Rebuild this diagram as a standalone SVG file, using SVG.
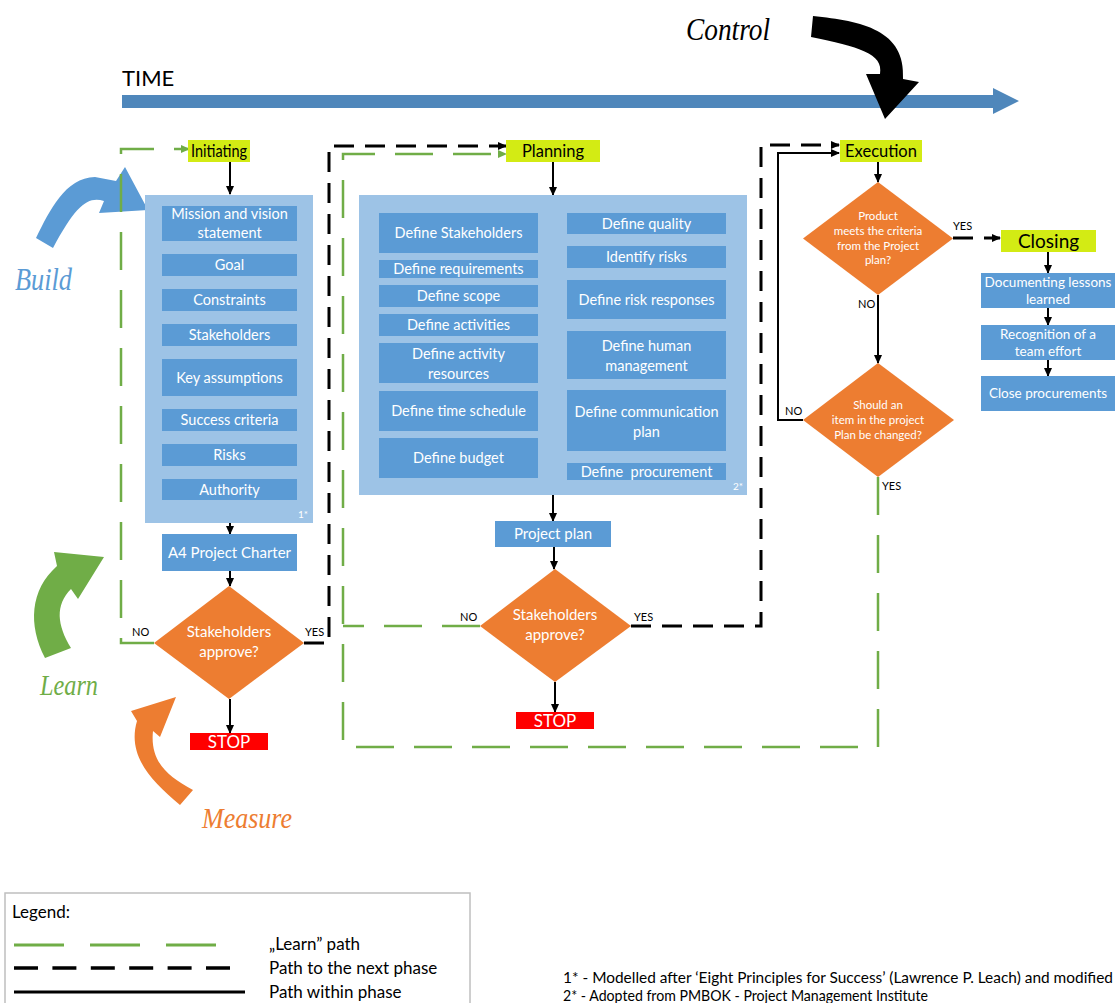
<svg xmlns="http://www.w3.org/2000/svg" width="1116" height="1003" viewBox="0 0 1116 1003">
<style>
text{font-family:Lato,"Open Sans","Liberation Sans",sans-serif}
.box{fill:#5b9bd5}
.cont{fill:#9dc3e6}
.dia{fill:#ed7d31}
.lbl{fill:#d3eb14}
.stop{fill:#ff0000}
.bt{fill:#ffffff;font-size:14.5px;text-anchor:middle}
.ct{fill:#ffffff;font-size:13.5px;text-anchor:middle}
.dt{fill:#ffffff;font-size:15px;text-anchor:middle}
.st{fill:#ffffff;font-size:11.5px;text-anchor:middle}
.lt{fill:#000000;font-size:16.5px;text-anchor:middle}
.yn{fill:#000000;font-size:11px}
.hand{font-family:"Liberation Serif","DejaVu Serif",serif;font-style:italic}
.solid{fill:none;stroke:#000;stroke-width:2}
.bdash{fill:none;stroke:#000;stroke-width:3;stroke-dasharray:20 11}
.gdash{fill:none;stroke:#70ad47;stroke-width:2.5;stroke-dasharray:38 20}
.leg{fill:#000;font-size:17px}
</style>
<defs>
<marker id="ab" markerUnits="userSpaceOnUse" markerWidth="10" markerHeight="10" refX="8" refY="5" orient="auto">
<path d="M0,1 L9,5 L0,9 Z" fill="#000"/>
</marker>
<marker id="ag" markerUnits="userSpaceOnUse" markerWidth="10" markerHeight="10" refX="8" refY="5" orient="auto">
<path d="M0,1 L9,5 L0,9 Z" fill="#70ad47"/>
</marker>
</defs>
<rect width="1116" height="1003" fill="#ffffff"/>

<!-- Time axis -->
<g id="time">
<text x="122" y="86" font-size="22" fill="#000">TIME</text>
<path d="M122,95 L993,95 L993,88 L1019,101 L993,114 L993,108 L122,108 Z" fill="#4f87bb"/>
</g>

<!-- PDCA style arrows -->
<g id="control">
<path d="M813,16 C862,21 906,30 903,79 L919,82 L885,119 L866,74 L880,74 C884,53 858,47 811,37 Z" fill="#000"/>
<text class="hand" x="686" y="40" font-size="32" fill="#000" textLength="84" lengthAdjust="spacingAndGlyphs">Control</text>
</g>
<g id="build">
<path d="M36,238 C50,210 65,178 95,177 L116,181 L125,167 L148,210 L99,213 L104,201 C88,196 76,205 53,248 Z" fill="#5b9bd5"/>
<text class="hand" x="15" y="290" font-size="32" fill="#5b9bd5" textLength="57" lengthAdjust="spacingAndGlyphs">Build</text>
</g>
<g id="learn">
<path d="M45,658 C28,625 30,590 57,566 L54,552 L104,557 L78,599 L71,589 C55,605 57,625 71,648 Z" fill="#70ad47"/>
<text class="hand" x="40" y="695" font-size="30" fill="#70ad47" textLength="58" lengthAdjust="spacingAndGlyphs">Learn</text>
</g>
<g id="measure">
<path d="M180,805 C150,780 127,755 137,721 L131,711 L176,697 L160,737 L153,731 C150,760 165,775 193,790 Z" fill="#ed7d31"/>
<text class="hand" x="202" y="828" font-size="30" fill="#ed7d31" textLength="90" lengthAdjust="spacingAndGlyphs">Measure</text>
</g>

<!-- Connectors -->
<g id="connectors">
<path class="gdash" d="M154,643 L121,643 L121,149 L189,149" marker-end="url(#ag)"/>
<path class="gdash" d="M480,626 L343,626"/>
<path class="gdash" d="M878,477 L878,747 L343,747 L343,154 L506,154" marker-end="url(#ag)"/>
<path class="bdash" d="M304,643 L329,643 L329,146 L506,146" marker-end="url(#ab)"/>
<path class="bdash" d="M631,626 L761,626 L761,145 L839,145" marker-end="url(#ab)"/>
<path class="bdash" d="M953,238 L1000,238" marker-end="url(#ab)"/>
<path class="solid" d="M230,162 L230,194" marker-end="url(#ab)"/>
<path class="solid" d="M230,523 L230,534" marker-end="url(#ab)"/>
<path class="solid" d="M230,571 L230,586" marker-end="url(#ab)"/>
<path class="solid" d="M230,699 L230,733" marker-end="url(#ab)"/>
<path class="solid" d="M553,162 L553,195" marker-end="url(#ab)"/>
<path class="solid" d="M553,495 L553,521" marker-end="url(#ab)"/>
<path class="solid" d="M554,547 L554,569" marker-end="url(#ab)"/>
<path class="solid" d="M555,682 L555,712" marker-end="url(#ab)"/>
<path class="solid" d="M878,162 L878,182" marker-end="url(#ab)"/>
<path class="solid" d="M878,295 L878,363" marker-end="url(#ab)"/>
<path class="solid" d="M803,420 L778,420 L778,153 L839,153" marker-end="url(#ab)"/>
<path class="solid" d="M1048,252 L1048,273" marker-end="url(#ab)"/>
<path class="solid" d="M1048,308 L1048,325" marker-end="url(#ab)"/>
<path class="solid" d="M1048,360 L1048,376" marker-end="url(#ab)"/>
<text class="yn" x="132" y="636">NO</text>
<text class="yn" x="305" y="636">YES</text>
<text class="yn" x="460" y="621">NO</text>
<text class="yn" x="634" y="621">YES</text>
<text class="yn" x="953" y="230">YES</text>
<text class="yn" x="858" y="308">NO</text>
<text class="yn" x="785" y="415">NO</text>
<text class="yn" x="882" y="490">YES</text>
</g>

<!-- Initiating phase -->
<g id="initiating">
<rect class="lbl" x="188" y="140" width="62" height="22"/>
<text class="lt" x="219" y="157" textLength="56" lengthAdjust="spacingAndGlyphs">Initiating</text>
</g>
<g id="initiating-content">
<rect class="cont" x="145" y="195" width="168" height="328"/>
<rect class="box" x="162" y="206" width="135" height="35"/>
<text class="bt" x="229.5" y="219">Mission and vision</text>
<text class="bt" x="229.5" y="238">statement</text>
<rect class="box" x="162" y="254" width="135" height="22"/>
<text class="bt" x="229.5" y="270">Goal</text>
<rect class="box" x="162" y="289" width="135" height="22"/>
<text class="bt" x="229.5" y="305">Constraints</text>
<rect class="box" x="162" y="324" width="135" height="22"/>
<text class="bt" x="229.5" y="340">Stakeholders</text>
<rect class="box" x="162" y="359" width="135" height="37"/>
<text class="bt" x="229.5" y="382.5">Key assumptions</text>
<rect class="box" x="162" y="409" width="135" height="22"/>
<text class="bt" x="229.5" y="425">Success criteria</text>
<rect class="box" x="162" y="444" width="135" height="22"/>
<text class="bt" x="229.5" y="460">Risks</text>
<rect class="box" x="162" y="479" width="135" height="21"/>
<text class="bt" x="229.5" y="494.5">Authority</text>
<text x="298" y="518" font-size="10" fill="#ffffff">1*</text>
</g>
<g id="a4-charter">
<rect class="box" x="162" y="534" width="135" height="37"/>
<text class="dt" x="229.5" y="557.5">A4 Project Charter</text>
</g>
<g id="init-approve">
<path class="dia" d="M229,586 L304,643 L229,699 L154,643 Z"/>
<text class="dt" x="229" y="637">Stakeholders</text>
<text class="dt" x="229" y="657">approve?</text>
</g>
<g id="init-stop">
<rect class="stop" x="190" y="733" width="78" height="17"/>
<text x="229" y="748" font-size="17" fill="#fff" text-anchor="middle">STOP</text>
</g>

<!-- Planning phase -->
<g id="planning">
<rect class="lbl" x="506" y="140" width="94" height="22"/>
<text class="lt" x="553" y="157">Planning</text>
</g>
<g id="planning-content">
<rect class="cont" x="359" y="195" width="388" height="300"/>
<rect class="box" x="379" y="213" width="159" height="40"/>
<text class="bt" x="458.5" y="238">Define Stakeholders</text>
<rect class="box" x="379" y="260" width="159" height="18"/>
<text class="bt" x="458.5" y="274">Define requirements</text>
<rect class="box" x="379" y="285" width="159" height="22"/>
<text class="bt" x="458.5" y="301">Define scope</text>
<rect class="box" x="379" y="314" width="159" height="22"/>
<text class="bt" x="458.5" y="330">Define activities</text>
<rect class="box" x="379" y="343" width="159" height="40"/>
<text class="bt" x="458.5" y="359">Define activity</text>
<text class="bt" x="458.5" y="379">resources</text>
<rect class="box" x="379" y="391" width="159" height="40"/>
<text class="bt" x="458.5" y="416">Define time schedule</text>
<rect class="box" x="379" y="438" width="159" height="40"/>
<text class="bt" x="458.5" y="463">Define budget</text>
<rect class="box" x="567" y="213" width="159" height="21"/>
<text class="bt" x="646.5" y="228.5">Define quality</text>
<rect class="box" x="567" y="246" width="159" height="22"/>
<text class="bt" x="646.5" y="262">Identify risks</text>
<rect class="box" x="567" y="280" width="159" height="39"/>
<text class="bt" x="646.5" y="304.5">Define risk responses</text>
<rect class="box" x="567" y="331" width="159" height="48"/>
<text class="bt" x="646.5" y="351">Define human</text>
<text class="bt" x="646.5" y="371">management</text>
<rect class="box" x="567" y="390" width="159" height="61"/>
<text class="bt" x="646.5" y="417">Define communication</text>
<text class="bt" x="646.5" y="437">plan</text>
<rect class="box" x="567" y="463" width="159" height="17"/>
<text class="bt" x="646.5" y="476.5" style="white-space:pre">Define  procurement</text>
<text x="733" y="490" font-size="10" fill="#ffffff">2*</text>
</g>
<g id="project-plan">
<rect class="box" x="495" y="521" width="116" height="26"/>
<text class="dt" x="553" y="539">Project plan</text>
</g>
<g id="plan-approve">
<path class="dia" d="M555,569 L631,626 L555,682 L480,626 Z"/>
<text class="dt" x="555" y="620">Stakeholders</text>
<text class="dt" x="555" y="640">approve?</text>
</g>
<g id="plan-stop">
<rect class="stop" x="516" y="712" width="78" height="17"/>
<text x="555" y="727" font-size="17" fill="#fff" text-anchor="middle">STOP</text>
</g>

<!-- Execution phase -->
<g id="execution">
<rect class="lbl" x="840" y="140" width="82" height="22"/>
<text class="lt" x="881" y="157">Execution</text>
</g>
<g id="product-criteria">
<path class="dia" d="M878,182 L953,238.5 L878,295 L803,238.5 Z"/>
<text class="st" x="878" y="220">Product</text>
<text class="st" x="878" y="235">meets the criteria</text>
<text class="st" x="878" y="250">from the Project</text>
<text class="st" x="878" y="264">plan?</text>
</g>
<g id="plan-change">
<path class="dia" d="M878,363 L954,420 L878,477 L803,420 Z"/>
<text class="st" x="878" y="409">Should an</text>
<text class="st" x="878" y="424">item in the project</text>
<text class="st" x="878" y="439">Plan be changed?</text>
</g>

<!-- Closing phase -->
<g id="closing">
<rect class="lbl" x="1001" y="230" width="95" height="22"/>
<text x="1048.5" y="248" font-size="19" fill="#000" text-anchor="middle">Closing</text>
</g>
<g id="lessons">
<rect class="box" x="981" y="273" width="134" height="35"/>
<text class="ct" x="1048" y="287">Documenting lessons</text>
<text class="ct" x="1048" y="304">learned</text>
</g>
<g id="recognition">
<rect class="box" x="981" y="325" width="134" height="35"/>
<text class="ct" x="1048" y="339">Recognition of a</text>
<text class="ct" x="1048" y="356">team effort</text>
</g>
<g id="close-procurements">
<rect class="box" x="981" y="376" width="134" height="35"/>
<text class="ct" x="1048" y="398">Close procurements</text>
</g>

<!-- Legend -->
<g id="legend">
<rect x="5" y="893" width="465" height="125" fill="#fff" stroke="#bfbfbf" stroke-width="1.5"/>
<text class="leg" x="12" y="918">Legend:</text>
<line x1="14" y1="945" x2="218" y2="945" stroke="#70ad47" stroke-width="3" stroke-dasharray="50 26"/>
<line x1="14" y1="968" x2="230" y2="968" stroke="#000" stroke-width="3.5" stroke-dasharray="24 14.4"/>
<line x1="14" y1="992" x2="245" y2="992" stroke="#000" stroke-width="3"/>
<text class="leg" x="269" y="950">„Learn” path</text>
<text class="leg" x="269" y="974">Path to the next phase</text>
<text class="leg" x="269" y="998">Path within phase</text>
</g>
<g id="footnotes">
<text x="563" y="983" font-size="15" fill="#000" textLength="550" lengthAdjust="spacingAndGlyphs">1* - Modelled after ‘Eight Principles for Success’ (Lawrence P. Leach) and modified</text>
<text x="563" y="1001" font-size="15" fill="#000" textLength="365" lengthAdjust="spacingAndGlyphs">2* - Adopted from PMBOK - Project Management Institute</text>
</g>
</svg>
